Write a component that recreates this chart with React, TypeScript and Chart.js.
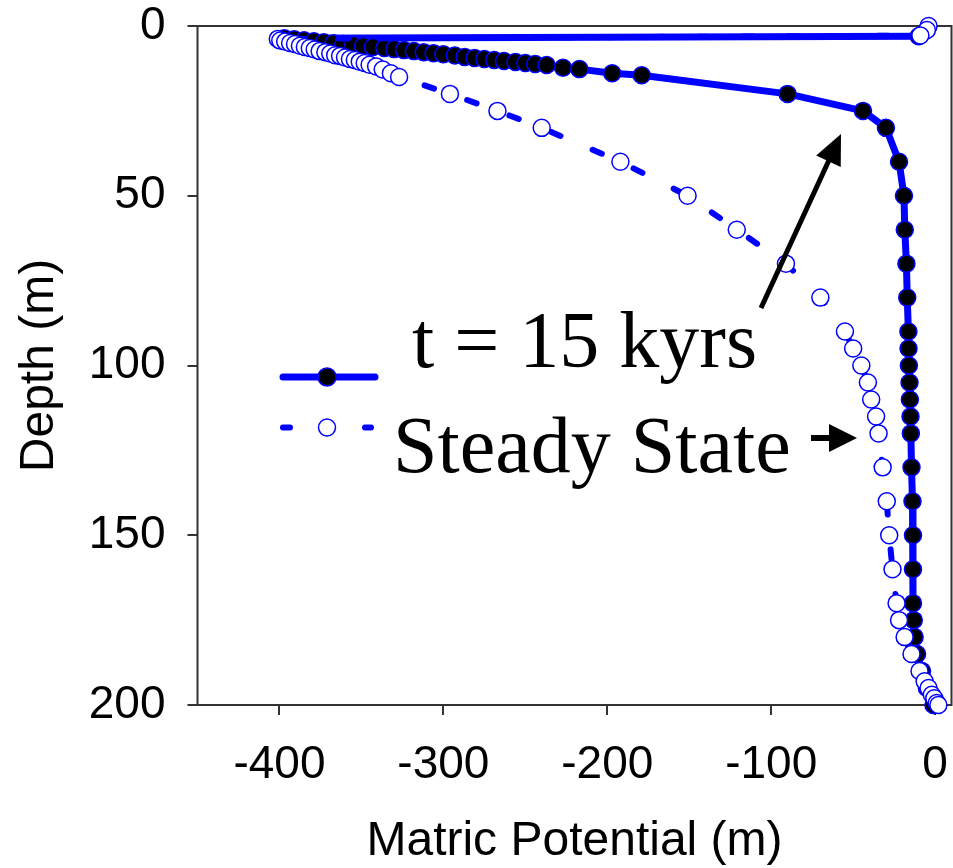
import React, { useEffect, useRef } from 'react';
import { Chart, registerables } from 'chart.js';

Chart.register(...registerables);

// ---- data ----
const xTicks = [-400, -300, -200, -100, 0];
const yTicks = [0, 50, 100, 150, 200];

const seriesLabels = ['t = 15 kyrs', 'Steady State'];
const xTitle = 'Matric Potential (m)';
const yTitle = 'Depth (m)';

// t = 15 kyrs (solid line, filled markers)
const kyrsPotential = [
  -10, -397, -391, -385, -379, -373, -367, -361, -355, -349, -343, -336, -330, -324,
  -318, -312, -306, -300, -293, -287, -281, -275, -269, -263, -256, -250, -244, -237,
  -227, -217, -197, -179, -90, -44, -30, -22, -19, -18.5, -17.5, -17, -16.3, -16.2,
  -16, -15.6, -15.4, -15, -14.8, -14.4, -13.8, -13.5, -13.5, -13.5, -13, -12.5, -11,
  -8, -5, -1,
];
const kyrsDepth = [
  3.0, 3.6, 3.9, 4.2, 4.5, 4.8, 5.1, 5.3, 5.6, 5.9, 6.2, 6.5, 6.8, 7.1,
  7.4, 7.7, 8.0, 8.3, 8.7, 9.1, 9.4, 9.7, 10.0, 10.3, 10.6, 10.9, 11.2, 11.5,
  12.3, 12.7, 13.9, 14.5, 20, 25, 30, 40, 50, 60, 70, 80, 90, 95,
  100, 105, 110, 115, 120, 130, 140, 150, 160, 170, 175, 180, 185,
  190, 195, 200,
];

// Steady state (dashed line, open markers)
const steadyPotential = [
  -4, -5, -9, -401, -399.5, -396.5, -393.5, -390.5, -387.5, -384.5, -381.5, -378.5,
  -375.5, -372, -369, -366, -363, -360, -357, -354, -351, -348, -345, -341, -337,
  -332, -327, -296, -267, -240, -192, -151, -121, -91, -70, -55, -50, -45, -41, -39,
  -36, -34.5, -32, -29.5, -28, -26, -23.5, -22, -18.6, -14.4, -9.5, -6.4, -4, -2,
  -0.5, 1, 2,
];
const steadyDepth = [
  0, 1.2, 2.8, 3.8, 4.3, 4.6, 5.0, 5.3, 5.8, 6.2, 6.5, 6.9,
  7.4, 7.7, 8.1, 8.6, 8.8, 9.3, 9.7, 10.0, 10.5, 10.9, 11.4, 11.9, 12.8,
  13.9, 15, 20, 25, 30, 40, 50, 60, 70, 80, 90, 95, 100, 105, 110,
  115, 120, 130, 140, 150, 160, 170, 175, 180, 185, 190, 193, 195, 197,
  198, 199.4, 200,
];

const BLUE = '#0000ff';
const SANS = '"Liberation Sans", Arial, sans-serif';
const SERIF = '"Liberation Serif", "Times New Roman", serif';

function drawArrow(ctx: CanvasRenderingContext2D, x0: number, y0: number, x1: number, y1: number, headLen: number, headHalf: number, lw: number) {
  const dx = x1 - x0, dy = y1 - y0;
  const len = Math.hypot(dx, dy);
  const ux = dx / len, uy = dy / len;
  const bx = x1 - ux * headLen, by = y1 - uy * headLen;
  ctx.save();
  ctx.strokeStyle = '#000';
  ctx.fillStyle = '#000';
  ctx.lineWidth = lw;
  ctx.lineCap = 'butt';
  ctx.beginPath();
  ctx.moveTo(x0, y0);
  ctx.lineTo(bx + ux * 2, by + uy * 2);
  ctx.stroke();
  ctx.beginPath();
  ctx.moveTo(x1, y1);
  ctx.lineTo(bx - uy * headHalf, by + ux * headHalf);
  ctx.lineTo(bx + uy * headHalf, by - ux * headHalf);
  ctx.closePath();
  ctx.fill();
  ctx.restore();
}

const framePlugin = {
  id: 'frame',
  beforeDatasetsDraw(chart: any) {
    const { ctx, chartArea: a } = chart;
    ctx.save();
    ctx.strokeStyle = '#333';
    ctx.lineWidth = 2;
    ctx.strokeRect(a.left, a.top, a.right - a.left, a.bottom - a.top);
    ctx.restore();
  },
};

const annotationPlugin = {
  id: 'annot',
  afterDraw(chart: any) {
    const ctx: CanvasRenderingContext2D = chart.ctx;
    ctx.save();
    // legend sample 1
    ctx.strokeStyle = BLUE;
    ctx.lineCap = 'round';
    ctx.lineWidth = 7;
    ctx.beginPath();
    ctx.moveTo(283, 377);
    ctx.lineTo(375, 377);
    ctx.stroke();
    ctx.beginPath();
    ctx.arc(327, 377, 9, 0, Math.PI * 2);
    ctx.fillStyle = '#000';
    ctx.fill();
    ctx.lineWidth = 1.5;
    ctx.stroke();
    // legend sample 2
    ctx.lineWidth = 6;
    ctx.beginPath();
    ctx.moveTo(283, 427.5);
    ctx.lineTo(290, 427.5);
    ctx.moveTo(365, 427.5);
    ctx.lineTo(371, 427.5);
    ctx.stroke();
    ctx.beginPath();
    ctx.arc(327, 427.5, 8.5, 0, Math.PI * 2);
    ctx.fillStyle = '#fff';
    ctx.fill();
    ctx.lineWidth = 1.5;
    ctx.stroke();
    // texts
    ctx.fillStyle = '#000';
    ctx.font = `80px ${SERIF}`;
    ctx.textBaseline = 'alphabetic';
    ctx.textAlign = 'left';
    ctx.fillText(seriesLabels[0], 412, 367);
    ctx.fillText(seriesLabels[1], 393, 472);
    ctx.restore();
    // arrows
    drawArrow(ctx, 761, 308, 841, 134, 30, 13.5, 5);
    drawArrow(ctx, 811, 438, 857, 438, 28, 14, 6);
  },
};

export default function App() {
  const ref = useRef<HTMLCanvasElement>(null);
  useEffect(() => {
    const canvas = ref.current!;
    const chart = new Chart(canvas, {
      type: 'scatter',
      data: {
        datasets: [
          {
            label: seriesLabels[1],
            data: steadyPotential.map((x, i) => ({ x, y: steadyDepth[i] })),
            showLine: true,
            borderColor: BLUE,
            borderWidth: 6,
            borderDash: [10, 35],
            borderCapStyle: 'round',
            pointRadius: 8.5,
            pointBackgroundColor: '#ffffff',
            pointBorderColor: BLUE,
            pointBorderWidth: 1.5,
            clip: false,
            order: 0,
          } as any,
          {
            label: seriesLabels[0],
            data: kyrsPotential.map((x, i) => ({ x, y: kyrsDepth[i] })),
            showLine: true,
            borderColor: BLUE,
            borderWidth: 7,
            borderCapStyle: 'round',
            borderJoinStyle: 'round',
            pointRadius: 8.5,
            pointBackgroundColor: '#000000',
            pointBorderColor: BLUE,
            pointBorderWidth: 1.5,
            clip: false,
            order: 1,
          } as any,
        ],
      },
      options: {
        responsive: false,
        animation: false,
        events: [],
        layout: { autoPadding: false, padding: { left: 0, top: 26, right: 1.5, bottom: 0 } },
        plugins: { legend: { display: false }, tooltip: { enabled: false } },
        scales: {
          x: {
            type: 'linear',
            min: -450,
            max: 10,
            afterBuildTicks: (s: any) => { s.ticks = xTicks.map((v) => ({ value: v })); },
            afterFit: (s: any) => { s.height = 163; s.paddingLeft = 0; s.paddingRight = 0; },
            grid: { display: true, drawOnChartArea: false, drawTicks: true, tickLength: 10, color: '#333', lineWidth: 2 },
            border: { display: false },
            ticks: {
              color: '#000',
              font: { family: SANS, size: 46, lineHeight: 1 },
              padding: 27,
              maxRotation: 0,
              autoSkip: false,
              callback: (v: any) => String(v),
            },
            title: {
              display: true,
              text: xTitle,
              color: '#000',
              font: { family: SANS, size: 48, lineHeight: 1.1 },
              padding: { top: 0, bottom: 0 },
            },
          },
          y: {
            type: 'linear',
            reverse: true,
            min: 0,
            max: 200,
            afterBuildTicks: (s: any) => { s.ticks = yTicks.map((v) => ({ value: v })); },
            afterFit: (s: any) => { s.width = 197.5; s.paddingTop = 0; s.paddingBottom = 0; },
            grid: { display: true, drawOnChartArea: false, drawTicks: true, tickLength: 10, color: '#333', lineWidth: 2 },
            border: { display: false },
            ticks: {
              color: '#000',
              font: { family: SANS, size: 46, lineHeight: 1 },
              padding: 22,
              autoSkip: false,
              callback: (v: any) => String(v),
            },
            title: {
              display: true,
              text: yTitle,
              color: '#000',
              font: { family: SANS, size: 48, lineHeight: 1.2 },
              padding: { top: 11, bottom: 0 },
            },
          },
        },
      } as any,
      plugins: [framePlugin, annotationPlugin],
    });
    return () => chart.destroy();
  }, []);
  return (
    <div style={{ position: 'fixed', left: 0, top: 0, width: 953, height: 868, background: '#fff' }}>
      <canvas ref={ref} width={953} height={868} style={{ display: 'block', width: 953, height: 868 }} />
    </div>
  );
}
